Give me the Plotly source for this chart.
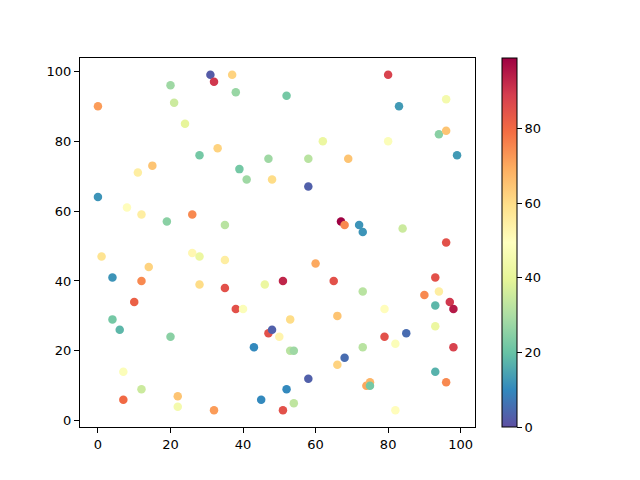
import plotly.graph_objects as go

# scatter points (x, y, colour value)
x = [0, 0, 1, 4, 4, 6, 7, 7, 8, 10,
     11, 12, 12, 12, 14, 15, 19, 20, 20, 21,
     22, 22, 24, 26, 26, 28, 28, 28, 31, 32,
     32, 33, 35, 35, 35, 37, 38, 38, 39, 40,
     41, 43, 45, 46, 47, 47, 48, 48, 50, 51,
     51, 52, 52, 53, 53, 54, 54, 58, 58, 58,
     60, 62, 65, 66, 66, 67, 68, 68, 69, 72,
     73, 73, 73, 74, 75, 75, 80, 80, 79, 79,
     82, 82, 83, 84, 85, 90, 93, 93, 93, 93,
     94, 94, 96, 96, 96, 96, 97, 98, 98, 99]
y = [90, 64, 47, 41, 29, 26, 14, 6, 61, 34,
     71, 59, 40, 9, 44, 73, 57, 96, 24, 91,
     7, 4, 85, 59, 48, 76, 47, 39, 99, 97,
     3, 78, 56, 46, 38, 99, 94, 32, 72, 32,
     69, 21, 6, 39, 75, 25, 26, 69, 24, 40,
     3, 93, 9, 29, 20, 20, 5, 75, 67, 12,
     45, 80, 40, 30, 16, 57, 56, 18, 75, 56,
     54, 37, 21, 10, 11, 10, 99, 80, 32, 24,
     22, 3, 90, 55, 25, 36, 41, 33, 27, 14,
     82, 37, 92, 83, 51, 11, 34, 32, 21, 76]
c = [72, 12, 58, 12, 22, 18, 48, 80, 50, 82,
     55, 55, 75, 35, 62, 65, 25, 28, 25, 35,
     65, 45, 40, 75, 52, 22, 42, 60, 2, 90,
     72, 62, 32, 55, 85, 62, 27, 85, 22, 48,
     28, 10, 10, 42, 28, 85, 3, 60, 53, 93,
     85, 22, 10, 60, 32, 28, 33, 32, 3, 3,
     70, 42, 85, 65, 62, 99, 75, 5, 65, 12,
     12, 32, 32, 70, 68, 22, 88, 48, 50, 85,
     48, 50, 13, 35, 5, 75, 85, 18, 42, 17,
     25, 55, 45, 65, 85, 75, 90, 95, 88, 13]

x_ticks = [0, 20, 40, 60, 80, 100]
y_ticks = [0, 20, 40, 60, 80, 100]
c_ticks = [0, 20, 40, 60, 80]

font = dict(family="DejaVu Sans", size=13, color="black")

fig = go.Figure(go.Scatter(
    x=x, y=y, mode="markers",
    marker=dict(size=8.5, color=c, colorscale="Spectral_r", cmin=0, cmax=99,
                line=dict(width=0),
                colorbar=dict(x=(502 - 80) / 395, xanchor="left", xpad=0, ypad=0,
                              thickness=15, len=1, lenmode="fraction", y=0.5,
                              outlinecolor="black", outlinewidth=1,
                              ticks="outside", ticklen=5, tickcolor="black",
                              tickvals=c_ticks, tickfont=font)),
))

axis_style = dict(showgrid=False, zeroline=False, showline=True, linecolor="black",
                  linewidth=1, mirror=True, ticks="outside", ticklen=5,
                  tickcolor="black", tickfont=font)

fig.update_xaxes(range=[-4.95, 103.95], tickvals=x_ticks, **axis_style)
fig.update_yaxes(range=[-1.8, 103.8], tickvals=y_ticks, **axis_style)

# page body adds an 8px offset, so margins are pulled in by that much
fig.update_layout(width=640, height=480, template="plotly_white",
                  paper_bgcolor="white", plot_bgcolor="white",
                  margin=dict(l=72, r=173, t=50, b=61), showlegend=False, font=font)

fig.write_html("out.html")
